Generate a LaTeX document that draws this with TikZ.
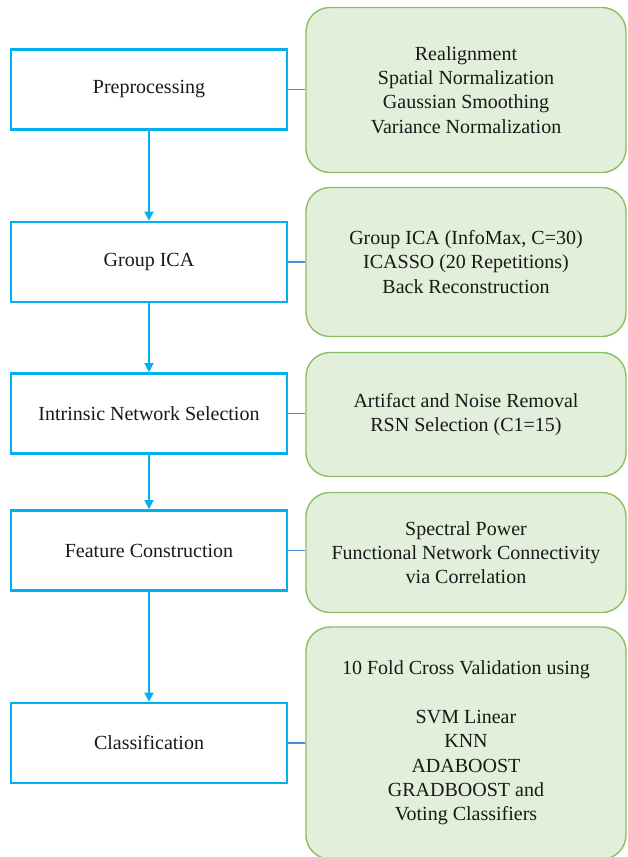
\documentclass[tikz,border=0pt]{standalone}
\usepackage{fontspec}
\setmainfont{Liberation Serif}
\newfontfamily\timesfont{Liberation Serif}
\usetikzlibrary{arrows.meta}

\definecolor{stageblue}{HTML}{00B0F0}
\definecolor{linkblue}{HTML}{4A8FD0}
\definecolor{notegreen}{HTML}{8CBF63}
\definecolor{notefill}{HTML}{E2EFDA}

\begin{document}
\begin{tikzpicture}[
  x=1pt, y=-1pt,
  font=\timesfont\fontsize{20}{24.3}\selectfont,
  every node/.style={align=center, text=black!90},
  %% --- styles ---------------------------------------------------
  stage/.style={
    draw=stageblue, fill=white, line width=2.6pt,
    minimum width=276pt, minimum height=80pt, inner sep=0pt
  },
  detail/.style={
    draw=notegreen, fill=notefill, line width=1.4pt, rounded corners=24pt,
    minimum width=320pt, inner sep=0pt
  },
  darrow/.style={-{Triangle[length=9pt, width=9pt]}, stageblue, line width=1.3pt},
  link/.style={linkblue, line width=1.3pt}
]
  \useasboundingbox (0,0) rectangle (627,857);

  %% --- 1. pipeline stages (left column) -------------------------
  \node[stage] (Preproc) at (149, 89.5) {Preprocessing};
  \node[stage] (GroupICA) at (149, 262) {Group ICA};
  \node[stage] (NetSel) at (149, 413.5) {Intrinsic Network Selection};
  \node[stage] (FeatCon) at (149, 550.5) {Feature Construction};
  \node[stage] (Classif) at (149, 743) {Classification};

  %% --- 2. details (right column) --------------------------------
  \node[detail, minimum height=165pt] (PreprocNote) at (466, 90)
    {Realignment\\Spatial Normalization\\Gaussian Smoothing\\Variance Normalization};
  \node[detail, minimum height=149pt] (GroupICANote) at (466, 262)
    {Group ICA (InfoMax, C=30)\\ICASSO (20 Repetitions)\\Back Reconstruction};
  \node[detail, minimum height=124pt] (NetSelNote) at (466, 414.5)
    {Artifact and Noise Removal\\RSN Selection (C1=15)};
  \node[detail, minimum height=120pt] (FeatConNote) at (466, 552.5)
    {Spectral Power\\Functional Network Connectivity\\via Correlation};
  \node[detail, minimum height=232pt] (ClassifNote) at (466, 743)
    {10 Fold Cross Validation using\\[24.3pt]SVM Linear\\KNN\\ADABOOST\\GRADBOOST and\\Voting Classifiers};

  %% --- 3. flow between stages -----------------------------------
  \draw[darrow] (Preproc.south) -- (GroupICA.north);
  \draw[darrow] (GroupICA.south) -- (NetSel.north);
  \draw[darrow] (NetSel.south) -- (FeatCon.north);
  \draw[darrow] (FeatCon.south) -- (Classif.north);

  % stage -> detail
  \draw[link] (Preproc.east) -- (Preproc -| PreprocNote.west);
  \draw[link] (GroupICA.east) -- (GroupICA -| GroupICANote.west);
  \draw[link] (NetSel.east) -- (NetSel -| NetSelNote.west);
  \draw[link] (FeatCon.east) -- (FeatCon -| FeatConNote.west);
  \draw[link] (Classif.east) -- (Classif -| ClassifNote.west);

\end{tikzpicture}
\end{document}
